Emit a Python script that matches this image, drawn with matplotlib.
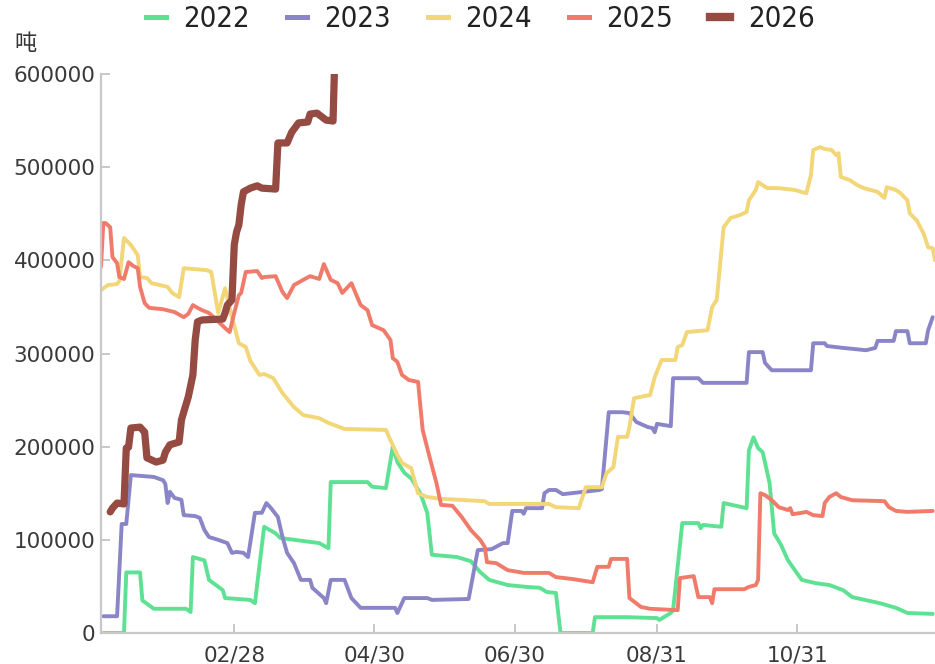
import matplotlib
matplotlib.use("Agg")
import matplotlib.pyplot as plt
from matplotlib.lines import Line2D

# day of year (0 = Jan 1) and stock in tonnes
days_2022 = [1, 10, 11, 17, 18, 23, 37, 39, 40, 45, 47, 50, 53, 54, 65, 67, 71, 76, 78, 95,
             99, 100, 116, 118, 124, 127, 129, 132, 135, 139, 142, 144, 155, 161, 165, 169,
             177, 185, 191, 194, 198, 200, 214, 215, 229, 242, 243, 248, 249, 253, 260, 261,
             262, 270, 271, 281, 282, 284, 286, 288, 291, 293, 296, 299, 305, 311, 317, 323,
             327, 339, 346, 351, 362]
vals_2022 = [0, 0, 65000, 65000, 35000, 26000, 26000, 22500, 81500, 78000, 57000, 51500,
             46000, 37500, 35500, 32000, 114000, 107000, 102000, 96500, 91000, 162000, 162000,
             157000, 155500, 200000, 183500, 172000, 166000, 150000, 129000, 84000, 81500,
             77000, 65500, 57000, 51500, 49500, 48500, 44000, 43000, 0, 0, 17000, 17000, 16000,
             14000, 21500, 24500, 118000, 118000, 112500, 116000, 114000, 139500, 134000,
             196000, 210000, 198500, 194000, 161000, 107000, 94500, 78000, 57000, 53500, 51500,
             46000, 38500, 32000, 27000, 21500, 20500]

days_2023 = [1, 7, 9, 11, 13, 23, 27, 28, 29, 30, 32, 35, 36, 41, 43, 45, 47, 51, 55, 57, 59,
             62, 64, 67, 70, 72, 74, 77, 79, 81, 84, 87, 91, 92, 97, 98, 100, 106, 109, 113,
             128, 129, 132, 142, 144, 160, 164, 170, 175, 177, 179, 183, 184, 185, 192, 193,
             195, 198, 201, 217, 218, 221, 227, 230, 233, 238, 240, 241, 242, 248, 249, 260,
             262, 281, 282, 288, 289, 291, 292, 309, 310, 315, 316, 323, 333, 337, 338, 345,
             346, 351, 352, 359, 360, 362]
vals_2023 = [18000, 18000, 117000, 117000, 169500, 167500, 164000, 160000, 139500, 151500,
             145000, 143000, 126500, 125500, 123500, 110500, 103000, 100000, 96500, 86000,
             87000, 86000, 81500, 129000, 129000, 139500, 134000, 124500, 103000, 86000, 75000,
             57000, 57000, 48500, 37500, 32000, 57000, 57000, 37500, 27000, 27000, 21500,
             37500, 37500, 35500, 36500, 89000, 90000, 96500, 96500, 131000, 131000, 128000,
             134000, 134000, 150000, 153500, 153500, 149000, 153500, 154500, 237000, 237000,
             236000, 226500, 221000, 220000, 215500, 224500, 222000, 273500, 273500, 268500,
             268500, 301500, 301500, 290000, 284500, 282000, 282000, 311000, 311000, 308000,
             306000, 303500, 306000, 313500, 313500, 324000, 324000, 311000, 311000, 325000,
             339000]

days_2024 = [0, 3, 7, 8, 10, 13, 16, 17, 20, 22, 29, 31, 34, 36, 46, 48, 51, 54, 57, 60, 63,
             65, 69, 71, 75, 79, 84, 88, 95, 99, 106, 124, 126, 129, 131, 135, 138, 142, 148,
             167, 169, 195, 198, 208, 211, 218, 220, 223, 225, 229, 230, 232, 239, 241, 244,
             250, 251, 253, 255, 264, 266, 268, 271, 274, 278, 281, 282, 285, 286, 290, 295,
             302, 307, 309, 310, 313, 315, 318, 320, 321, 322, 326, 329, 332, 338, 341, 342,
             346, 348, 351, 352, 355, 358, 360, 362, 363]
vals_2024 = [368000, 373500, 374500, 378000, 424000, 416500, 405500, 382000, 381000, 375500,
             371500, 365000, 360500, 391500, 389500, 387500, 343500, 370000, 339000, 311000,
             307000, 292000, 277000, 278000, 273500, 257500, 242500, 234000, 230500, 225500,
             219000, 218000, 207000, 191000, 182500, 177000, 150000, 146000, 144000, 141500,
             138500, 138500, 135000, 134000, 156500, 156500, 171500, 178000, 210500, 210500,
             221000, 252000, 255500, 274500, 293000, 293000, 307000, 309000, 323000, 325000,
             350000, 357500, 435500, 445500, 448500, 452000, 464500, 475500, 484000, 477500,
             477500, 475500, 472000, 491500, 518500, 521500, 519500, 518500, 513000, 515000,
             489500, 486000, 481000, 477500, 473500, 467000, 478500, 475500, 472000, 464500,
             450500, 443000, 429000, 414000, 413000, 400000]

days_2025 = [0, 1, 2, 4, 5, 7, 8, 10, 12, 14, 16, 17, 19, 21, 27, 32, 36, 38, 40, 42, 44, 47,
             49, 55, 56, 58, 60, 61, 63, 68, 70, 71, 76, 79, 81, 84, 88, 91, 95, 97, 100, 103,
             105, 109, 113, 116, 118, 123, 126, 127, 129, 131, 134, 138, 140, 143, 146, 148,
             153, 157, 161, 165, 167, 168, 172, 177, 184, 195, 198, 205, 214, 216, 221, 222,
             229, 230, 235, 239, 251, 252, 258, 260, 265, 266, 267, 280, 282, 285, 286, 287,
             289, 292, 295, 299, 300, 301, 305, 307, 310, 314, 315, 317, 320, 322, 327, 341,
             343, 346, 351, 362]
vals_2025 = [393000, 440000, 440000, 435500, 403500, 397000, 382000, 380000, 398000, 394000,
             391500, 371500, 354000, 349000, 347500, 344500, 339000, 342500, 352000, 349000,
             346500, 343500, 339000, 325000, 323000, 343500, 362500, 365000, 387500, 388500,
             381000, 382000, 383000, 366000, 359500, 373500, 379000, 383000, 380000, 396000,
             379000, 375500, 365000, 375500, 352000, 346500, 330500, 325000, 314500, 295000,
             291000, 277000, 271500, 269500, 218000, 189000, 161000, 137500, 136500, 124500,
             110500, 100000, 92500, 76000, 75000, 67500, 64500, 64500, 60000, 58000, 54500,
             71000, 71000, 79500, 79500, 37500, 28000, 26000, 24500, 59000, 61000, 38500,
             38500, 32000, 47000, 47000, 49500, 51500, 57000, 150000, 148000, 142500, 135000,
             132000, 134000, 127500, 129000, 130000, 126500, 125500, 139500, 146000, 150000,
             146000, 142500, 141500, 135000, 131000, 130000, 131000]

days_2026 = [4, 5, 7, 10, 11, 12, 13, 17, 19, 20, 24, 27, 28, 30, 34, 35, 36, 38, 40, 41, 42,
             44, 53, 54, 55, 57, 58, 59, 60, 61, 62, 65, 68, 70, 76, 77, 81, 83, 86, 90, 91,
             94, 98, 101, 102]
vals_2026 = [130000, 134000, 139500, 138500, 198500, 199500, 220000, 221000, 215500, 188000,
             183500, 185500, 194000, 202000, 205000, 228500, 237000, 253500, 277000, 314500,
             334000, 336000, 337000, 343500, 352000, 357500, 416500, 430500, 438000, 459500,
             473500, 477500, 480000, 477500, 476500, 526000, 526000, 537500, 547500, 548500,
             557000, 558000, 550500, 549500, 640000]

years = ["2022", "2023", "2024", "2025", "2026"]
series = [(days_2022, vals_2022), (days_2023, vals_2023), (days_2024, vals_2024),
          (days_2025, vals_2025), (days_2026, vals_2026)]
colors = ["#5fe193", "#8a85c6", "#f2d677", "#f07b6b", "#954a42"]
widths = [2.8, 2.8, 2.8, 2.8, 5.2]

tick_days = [58, 119, 180, 242, 303]
tick_labels = ["02/28", "04/30", "06/30", "08/31", "10/31"]

fig = plt.figure(figsize=(9.35, 6.64), dpi=100)
ax = fig.add_axes([101 / 935, 1 - 633 / 664, 834 / 935, 559 / 664])

for (d, v), c, w in zip(series, colors, widths):
    ax.plot(d, v, color=c, lw=w, solid_joinstyle="round", solid_capstyle="round")

ax.set_xlim(0, 363)
ax.set_ylim(0, 600000)
ax.set_xticks(tick_days)
ax.set_xticklabels(tick_labels)
ax.set_yticks(range(0, 600001, 100000))
ax.set_yticklabels([str(t) for t in range(0, 600001, 100000)])

for s in ["top", "right"]:
    ax.spines[s].set_visible(False)
for s in ["left", "bottom"]:
    ax.spines[s].set_color("#c8c8c8")
    ax.spines[s].set_linewidth(1.6)
ax.tick_params(direction="in", length=6.5, width=1.4, color="#c8c8c8",
               labelsize=15.5, labelcolor="#3a3a3a")
ax.tick_params(axis="y", pad=4)
ax.tick_params(axis="x", pad=9)

fig.text(14 / 935, 1 - 44 / 664, "吨", family=["Noto Sans CJK SC", "DejaVu Sans"],
         fontsize=16, color="#333333", va="center", ha="left")

handles = [Line2D([], [], color=c, lw=w + 0.8) for c, w in zip(colors, widths)]
leg = fig.legend(handles, years, loc="center", bbox_to_anchor=(480 / 935, 1 - 19 / 664),
                 ncol=5, frameon=False, handlelength=0.7, handletextpad=0.6,
                 columnspacing=1.25,
                 prop={"family": "DejaVu Sans", "stretch": "condensed", "size": 21})
for t in leg.get_texts():
    t.set_color("#222222")

fig.savefig("out.png", dpi=100)
